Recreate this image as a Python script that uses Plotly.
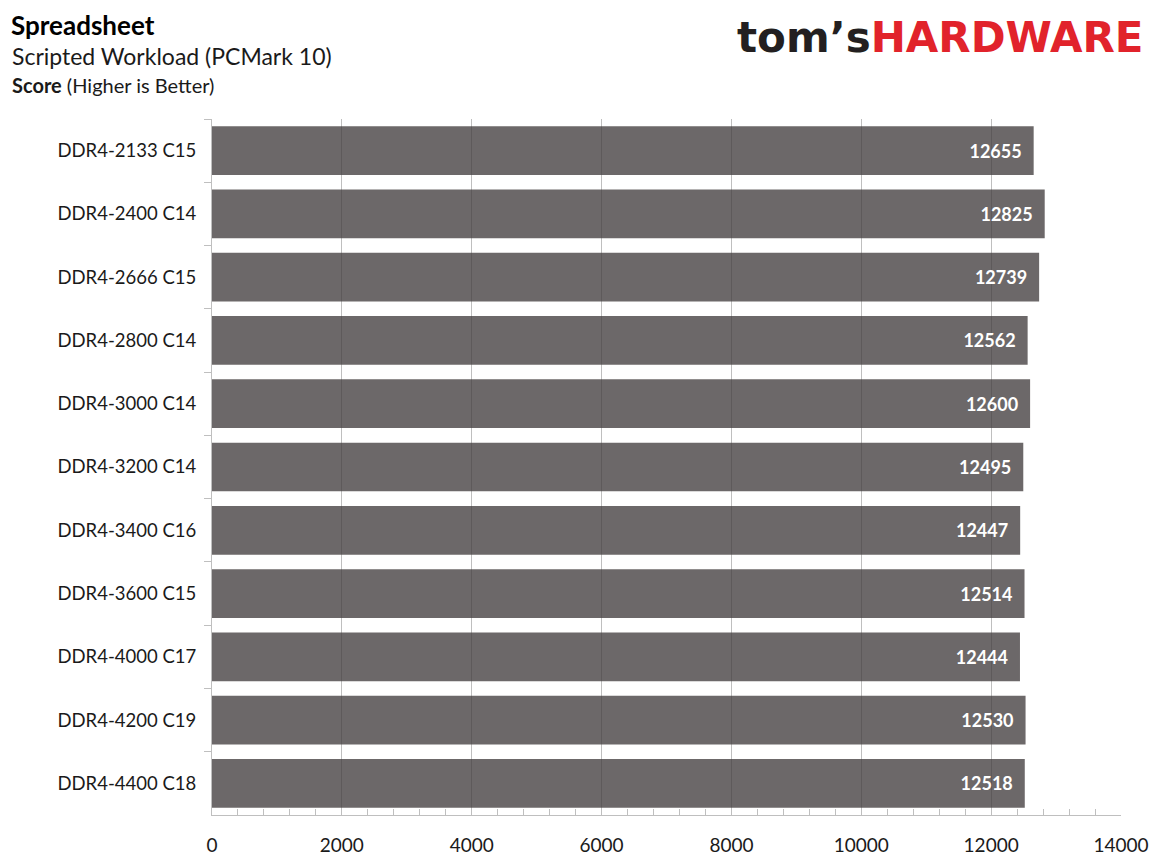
import plotly.graph_objects as go

# memory kits and their PCMark 10 spreadsheet scores
kits = ['DDR4-2133 C15', 'DDR4-2400 C14', 'DDR4-2666 C15', 'DDR4-2800 C14',
        'DDR4-3000 C14', 'DDR4-3200 C14', 'DDR4-3400 C16', 'DDR4-3600 C15',
        'DDR4-4000 C17', 'DDR4-4200 C19', 'DDR4-4400 C18']
scores = [12655, 12825, 12739, 12562, 12600, 12495, 12447, 12514, 12444, 12530, 12518]

font = 'Lato'
grey = '#bfbfbf'
# the page body adds an 8px margin, so the figure is 8px smaller each way
W, H = 1152, 854
L, R, T, B = 204, 39, 111, 47
pw, ph = W - L - R, H - T - B

fig = go.Figure(go.Bar(
    x=scores,
    y=kits,
    orientation='h',
    marker=dict(color='rgba(66,62,63,0.78)', line=dict(width=0)),
    text=[f'<b>{s}</b>\u2002' for s in scores],
    textposition='inside',
    insidetextanchor='end',
    textfont=dict(family=font, size=18, color='white'),
    cliponaxis=False,
))

fig.update_layout(
    width=W, height=H,
    margin=dict(l=L, r=R, t=T, b=B),
    paper_bgcolor='white', plot_bgcolor='white',
    bargap=0.23,
    showlegend=False,
    font=dict(family=font, size=17, color='#1a1a1a'),
)

fig.update_xaxes(
    range=[0, 14000], dtick=2000, tickformat='d',
    showgrid=True, gridcolor=grey, gridwidth=1,
    showline=True, linecolor=grey, linewidth=1,
    ticks='inside', ticklen=6, tickcolor=grey,
    minor=dict(dtick=400, ticks='inside', ticklen=6, tickcolor=grey, showgrid=False),
    ticklabelstandoff=13,
    tickfont=dict(family=font, size=19, color='#1a1a1a'),
    zeroline=False,
    automargin=False,
)
fig.update_yaxes(
    autorange='reversed',
    showline=True, linecolor=grey, linewidth=1,
    ticks='outside', tickson='boundaries', ticklen=7, tickcolor=grey,
    ticklabelstandoff=11,
    tickfont=dict(family=font, size=18.5, color='#1a1a1a'),
    showgrid=False,
    automargin=False,
)

# heading block
head_x = (2 - L) / pw
fig.add_annotation(text='<b>Spreadsheet</b>', xref='paper', yref='paper',
                   x=head_x, y=1 + (T - 17) / ph, xanchor='left', yanchor='middle',
                   showarrow=False, borderpad=0,
                   font=dict(family=font, size=26, color='black'))
fig.add_annotation(text='Scripted Workload (PCMark 10)', xref='paper', yref='paper',
                   x=head_x, y=1 + (T - 48) / ph, xanchor='left', yanchor='middle',
                   showarrow=False, font=dict(family=font, size=23, color='#1a1a1a'))
fig.add_annotation(text='<b>Score</b> (Higher is Better)', xref='paper', yref='paper',
                   x=head_x, y=1 + (T - 77) / ph, xanchor='left', yanchor='middle',
                   showarrow=False, font=dict(family=font, size=20, color='#1a1a1a'))

# logo
fig.add_annotation(
    text="<b><span style='color:#231f20'>tom’s</span><span style='color:#e1232b'>HARDWARE</span></b>",
    xref='paper', yref='paper', x=1 + (1146 - 8 - L - pw) / pw, y=1 + (T - 29) / ph,
    xanchor='right', yanchor='middle', showarrow=False,
    font=dict(family='DejaVu Sans', size=42))

fig.write_html('out.html')
